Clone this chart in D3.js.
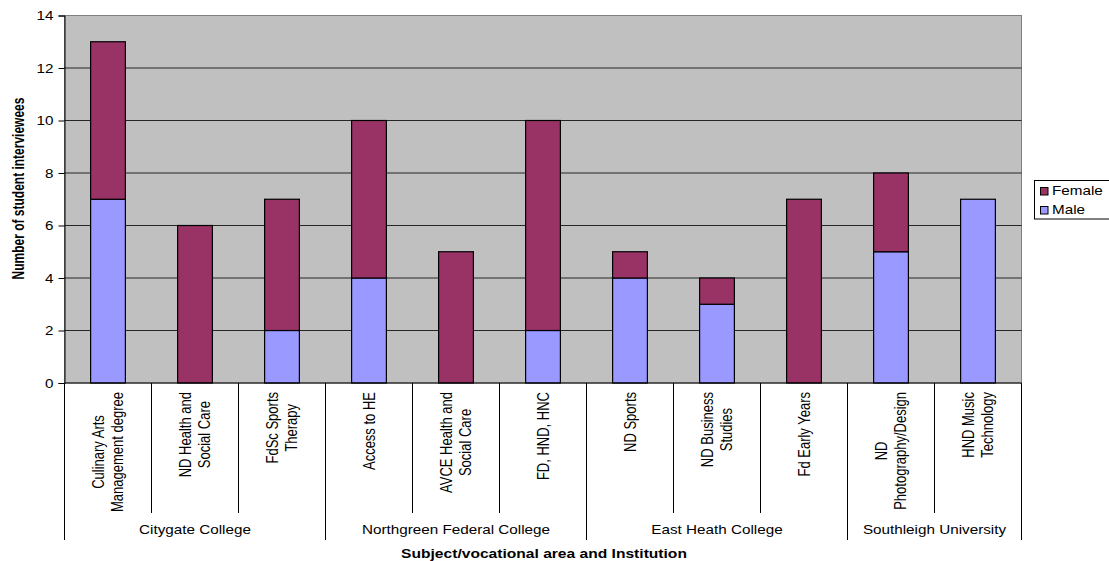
<!DOCTYPE html>
<html>
<head>
<meta charset="utf-8">
<script src="https://cdn.jsdelivr.net/npm/d3@7"></script>
<style>
  html, body { margin: 0; padding: 0; background: #fff; }
  svg { display: block; font-family: "Liberation Sans", Arial, sans-serif; }
</style>
</head>
<body>
<svg id="chart" width="1109" height="561"></svg>
<script>
// ---- data ----
const categories = [
  "Culinary Arts\nManagement degree",
  "ND Health and\nSocial Care",
  "FdSc Sports\nTherapy",
  "Access to HE",
  "AVCE Health and\nSocial Care",
  "FD, HND, HNC",
  "ND Sports",
  "ND Business\nStudies",
  "Fd Early Years",
  "ND\nPhotography/Design",
  "HND Music\nTechnology"
];
const maleValues   = [7, 0, 2, 4, 0, 2, 4, 3, 0, 5, 7];
const femaleValues = [6, 6, 5, 6, 5, 8, 1, 1, 7, 3, 0];
const institutions = ["Citygate College", "Northgreen Federal College", "East Heath College", "Southleigh University"];
const institutionSizes = [3, 3, 3, 2];
const yTicks = [0, 2, 4, 6, 8, 10, 12, 14];
const seriesNames = ["Female", "Male"];
const seriesColors = { Female: "#993366", Male: "#9999FF" };
const yTitle = "Number of student interviewees";
const xTitle = "Subject/vocational area and Institution";

// ---- layout ----
const svg = d3.select("#chart");
const pLeft = 64.5, pRight = 1021.5, pTop = 15.5, pBottom = 383;
const x = d3.scaleBand().domain(d3.range(categories.length)).range([pLeft, pRight]).paddingInner(0).paddingOuter(0);
const y = d3.scaleLinear().domain([0, 14]).range([pBottom, pTop]);
const barW = x.bandwidth() * 0.4;
const SX = 1.22; // horizontal stretch of glyphs in the reference

// plot background
svg.append("rect").attr("x", pLeft).attr("y", pTop).attr("width", pRight - pLeft).attr("height", pBottom - pTop)
  .attr("fill", "#C0C0C0").attr("stroke", "#808080").attr("stroke-width", 1);

// gridlines
svg.append("g").selectAll("line").data(yTicks.filter(t => t > 0 && t < 14)).join("line")
  .attr("x1", pLeft).attr("x2", pRight).attr("y1", d => y(d)).attr("y2", d => y(d))
  .attr("stroke", "#262626").attr("stroke-width", 1);

// stacked bars
const rows = categories.map((c, i) => ({ i, Male: maleValues[i], Female: femaleValues[i] }));
const stack = d3.stack().keys(["Male", "Female"])(rows);
svg.append("g").selectAll("g").data(stack).join("g")
  .attr("fill", d => seriesColors[d.key])
  .selectAll("rect").data(d => d.filter(s => s[1] - s[0] > 0)).join("rect")
  .attr("x", d => x(d.data.i) + (x.bandwidth() - barW) / 2)
  .attr("width", barW)
  .attr("y", d => y(d[1]))
  .attr("height", d => y(d[0]) - y(d[1]))
  .attr("stroke", "#000").attr("stroke-width", 1.2);

// y axis
const yAxis = d3.axisLeft(y).tickValues(yTicks).tickSize(6).tickPadding(0).tickFormat(d3.format("d"));
const gy = svg.append("g").attr("transform", `translate(${pLeft},0)`).call(yAxis);
gy.select(".domain").attr("stroke", "#000");
gy.selectAll(".tick line").attr("stroke", "#000");
gy.selectAll(".tick text").remove();
gy.selectAll(".tick").append("text")
  .attr("transform", `translate(-11,0) scale(${SX},1)`)
  .attr("y", 4.4).attr("text-anchor", "end")
  .attr("fill", "#000").attr("font-size", 12.5)
  .text(d => d);

// x axis line
svg.append("line").attr("x1", pLeft).attr("x2", pRight).attr("y1", pBottom).attr("y2", pBottom)
  .attr("stroke", "#000").attr("stroke-width", 1);

// group boundaries
const groupStarts = [0];
institutionSizes.forEach((s, k) => groupStarts.push(groupStarts[k] + s));
const boundaries = d3.range(categories.length + 1);
svg.append("g").selectAll("line").data(boundaries).join("line")
  .attr("x1", d => d < categories.length ? x(d) : pRight)
  .attr("x2", d => d < categories.length ? x(d) : pRight)
  .attr("y1", pBottom)
  .attr("y2", d => groupStarts.includes(d) ? 540 : 513)
  .attr("stroke", "#000").attr("stroke-width", 1);

// category labels (rotated, lines centered, longest line starting at y=392)
const fsCat = 13, lineGap = 19;
const catG = svg.append("g");
categories.forEach((c, i) => {
  const lines = c.split("\n");
  const cx = x(i) + x.bandwidth() / 2;
  const texts = lines.map((ln, j) => {
    const lx = cx + (j - (lines.length - 1) / 2) * lineGap;
    return catG.append("text")
      .attr("font-size", fsCat).attr("fill", "#000")
      .attr("text-anchor", "middle")
      .attr("y", 0.358 * fsCat)
      .attr("data-lx", lx)
      .text(ln);
  });
  const maxLen = d3.max(texts, t => t.node().getComputedTextLength());
  const cy = 392 + maxLen / 2;
  texts.forEach(t => {
    t.attr("transform", `translate(${+t.attr("data-lx")},${cy}) scale(${SX},1) rotate(-90)`);
  });
});

// institution labels
const instG = svg.append("g");
institutions.forEach((name, k) => {
  const a = x(groupStarts[k]);
  const b = groupStarts[k + 1] < categories.length ? x(groupStarts[k + 1]) : pRight;
  instG.append("text")
    .attr("transform", `translate(${(a + b) / 2},534) scale(${SX},1)`)
    .attr("text-anchor", "middle").attr("font-size", 12.5).attr("fill", "#000")
    .text(name);
});

// axis titles
svg.append("text")
  .attr("transform", `translate(544,557.5) scale(1.3,1)`)
  .attr("text-anchor", "middle").attr("font-size", 12).attr("font-weight", "bold").attr("fill", "#000")
  .text(xTitle);
svg.append("text")
  .attr("transform", `translate(18.5,188.5) scale(1.3,1) rotate(-90)`)
  .attr("text-anchor", "middle").attr("font-size", 12).attr("font-weight", "bold").attr("fill", "#000")
  .attr("y", 0.358 * 12)
  .text(yTitle);

// legend
const lg = svg.append("g");
lg.append("rect").attr("x", 1034.5).attr("y", 180.5).attr("width", 90).attr("height", 38.5)
  .attr("fill", "#fff").attr("stroke", "#000").attr("stroke-width", 1);
seriesNames.forEach((s, k) => {
  const yy = 187 + k * 19;
  lg.append("rect").attr("x", 1040.5).attr("y", yy + 0.5).attr("width", 7.5).attr("height", 7.5)
    .attr("fill", seriesColors[s]).attr("stroke", "#000").attr("stroke-width", 1);
  lg.append("text")
    .attr("transform", `translate(1052,${yy + 8.3}) scale(${SX},1)`)
    .attr("font-size", 12.5).attr("fill", "#000")
    .text(s);
});
</script>
</body>
</html>
